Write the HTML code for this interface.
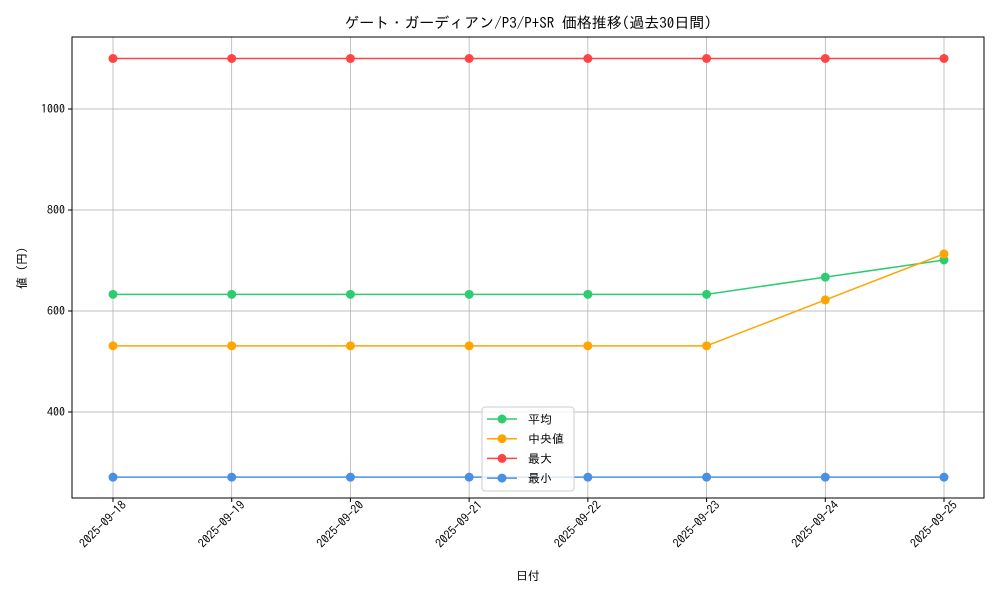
<!DOCTYPE html>
<html><head><meta charset="utf-8"><style>
body{margin:0;background:#fff}
svg text{font-family:"IPAGothic","Liberation Sans","Noto Sans CJK JP",sans-serif;fill:#000}
</style></head><body>
<svg width="1000" height="600" xmlns="http://www.w3.org/2000/svg">
<rect width="1000" height="600" fill="#fff"/>
<g id="grid"></g>
<g id="series"></g>
<rect x="72" y="37" width="912" height="461" fill="none" stroke="#000" stroke-width="1"/>
<g id="axes"></g>
<text x="528" y="28" font-size="15" text-anchor="middle">ゲート・ガーディアン/P3/P+SR 価格推移(過去30日間)</text>
<text x="528" y="580" font-size="12" text-anchor="middle">日付</text>
<text x="26" y="268" font-size="12" text-anchor="middle" transform="rotate(-90 26 268)">値 (円)</text>
<g id="legend">
<rect x="482" y="407" width="92" height="84" rx="3" fill="#fff" fill-opacity="0.8" stroke="#ccc"/>
</g>
</svg>
<script>
const dates=["2025-09-18","2025-09-19","2025-09-20","2025-09-21","2025-09-22","2025-09-23","2025-09-24","2025-09-25"];
const avgVals=[633,633,633,633,633,633,667,701];
const medVals=[531,531,531,531,531,531,622,713];
const maxVals=[1100,1100,1100,1100,1100,1100,1100,1100];
const minVals=[271,271,271,271,271,271,271,271];
const yTicks=[400,600,800,1000];
const seriesNames=["平均","中央値","最大","最小"];
const NS="http://www.w3.org/2000/svg";
const x=i=>113+i*(944-113)/(dates.length-1);
const y=v=>311-(v-600)*0.505;
function mk(tag,attrs,parent){const e=document.createElementNS(NS,tag);for(const k in attrs)e.setAttribute(k,attrs[k]);parent.appendChild(e);return e;}
const grid=document.getElementById('grid'),axes=document.getElementById('axes'),ser=document.getElementById('series'),leg=document.getElementById('legend');
dates.forEach((d,i)=>{
 const g=mk('line',{x1:x(i),x2:x(i),y1:37,y2:498,stroke:'#aaaaaa','stroke-width':0.7},grid);
 
 
 mk('line',{x1:x(i),x2:x(i),y1:498,y2:502,stroke:'#000'},axes);
 const t=mk('text',{x:x(i)+8,y:500,'font-size':12,'text-anchor':'end',transform:`rotate(-45 ${x(i)+8} 500)`,dy:'0.7em'},axes);
 t.textContent=d;
 
 
});
yTicks.forEach(v=>{
 const g=mk('line',{x1:72,x2:984,y1:y(v),y2:y(v),stroke:'#aaaaaa','stroke-width':0.7},grid);
 
 
 mk('line',{x1:68,x2:72,y1:y(v),y2:y(v),stroke:'#000'},axes);
 const t=mk('text',{x:65,y:y(v)+4,'font-size':12,'text-anchor':'end'},axes);
 t.textContent=v;
 
 
});
const all=[[avgVals,'#2ecc71','avg'],[medVals,'#ffa500','median'],[maxVals,'#ff4444','max'],[minVals,'#4a90e2','min']];
all.forEach(([vals,c,n],si)=>{
 const p=mk('polyline',{points:vals.map((v,i)=>x(i)+','+y(v)).join(' '),fill:'none',stroke:c,'stroke-width':1.5},ser);
 
 
 vals.forEach((v,i)=>{const m=mk('circle',{cx:x(i),cy:y(v),r:4.5,fill:c},ser);
 
 });
 const ly=419+si*19.7;
 mk('line',{x1:487,x2:517,y1:ly,y2:ly,stroke:c,'stroke-width':1.5},leg);
 mk('circle',{cx:502,cy:ly,r:4.5,fill:c},leg);
 const t=mk('text',{x:528,y:ly+4.5,'font-size':12},leg);
 t.textContent=seriesNames[si];
 
 
});
</script>
</body></html>
